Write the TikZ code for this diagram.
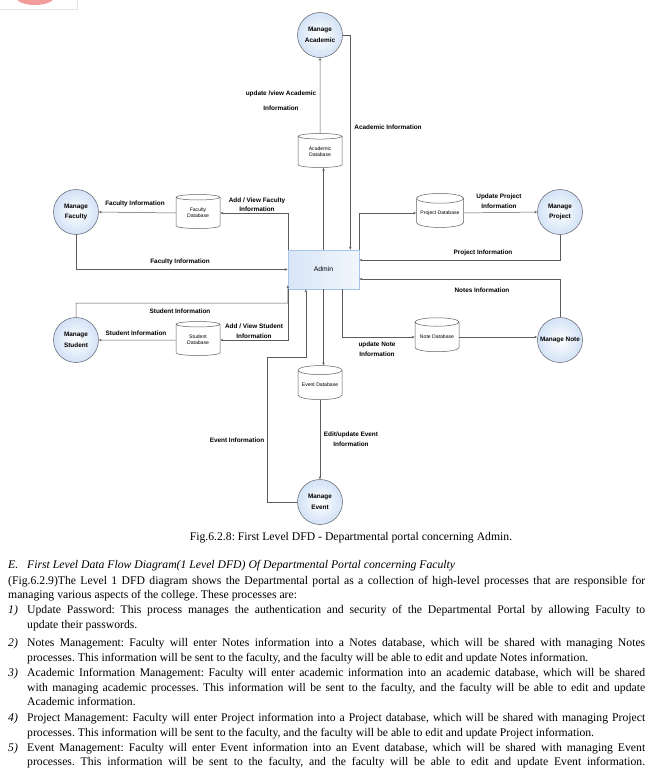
\documentclass[tikz,border=0pt]{standalone}
\usepackage{fontspec}
\setmainfont{Liberation Serif}
\setsansfont{Liberation Sans}
\usetikzlibrary{shapes.geometric,arrows.meta}
\definecolor{procfill}{HTML}{D3E2F6}
\definecolor{procline}{HTML}{5A5F66}
\definecolor{hubfill}{HTML}{D8E6F8}
\definecolor{hubline}{HTML}{A9C4EA}
\definecolor{flowline}{HTML}{5B5B5B}
\definecolor{logopink}{HTML}{F39C9C}
\frenchspacing

\begin{document}
\begin{tikzpicture}[x=1pt, y=-1pt,
  proc/.style = {draw=procline, line width=0.5pt, circle, minimum size=45pt, inner sep=0pt, inner color=white, outer color=procfill, font=\sffamily\bfseries\fontsize{6.4}{10.5}\selectfont, align=center},
  store/.style = {draw=procline, line width=0.5pt, cylinder, shape border rotate=90, aspect=0.25, minimum width=44pt, minimum height=34pt, fill=white, inner sep=0pt, font=\sffamily\fontsize{5.1}{6.2}\selectfont, align=center},
  hub/.style = {draw=hubline, line width=0.5pt, minimum width=71pt, minimum height=39pt, inner sep=0pt, left color=hubfill, right color=hubfill!35, font=\sffamily\fontsize{6.8}{8}\selectfont},
  flow/.style = {draw=flowline, line width=0.5pt, -{Stealth[length=3pt, width=2.4pt]}},
  lbl/.style = {inner sep=0pt, align=center, font=\sffamily\bfseries\fontsize{6.4}{9.5}\selectfont},
  para/.style = {anchor=base west, inner sep=0pt, font=\fontsize{11.7}{14}\selectfont}]
\useasboundingbox (0,0) rectangle (650,780);
\fill[white] (0,0) rectangle (650,780);
\begin{scope}
  \clip (0,0) rectangle (650,780);
  \fill[logopink] (35,-4) ellipse (20 and 9);
\end{scope}
\draw[gray!20, line width=0.5pt] (0,9) -- (77,9) -- (77,0);

\node[proc] (acad) at (320,35) {Manage\\Academic};
\node[proc] (fac) at (76,212) {Manage\\Faculty};
\node[proc] (proj) at (560,212) {Manage\\Project};
\node[proc] (stu) at (76,340) {Manage\\Student};
\node[proc] (note) at (560,340) {Manage Note};
\node[proc] (event) at (320,502) {Manage\\Event};
\node[hub] (admin) at (323.5,269.5) {Admin};
\node[store] (acaddb) at (320,152) {Academic\\Database};
\node[store] (facdb) at (198,213) {Faculty\\Database};
\node[store, minimum width=47pt] (projdb) at (440,213) {Project Database};
\node[store] (studb) at (198,340) {Student\\Database};
\node[store] (notedb) at (437,337) {Note Database};
\node[store] (evdb) at (320,385) {Event Database};
\coordinate (stubend) at (288,303);
\coordinate (evbend) at (267,357);

\draw[flow] (admin.north) -- (admin.north |- acaddb.south);
\draw[flow] (acaddb.north) -- (acad.south);
\draw[flow] (acad.east) -| ([xshift=-9pt]admin.north east);
\draw[flow] (admin.north west) |- (facdb.east);
\draw[flow] (facdb.west) -- (fac.east);
\draw[flow] (fac.south) |- (admin.west);
\draw[flow] (stu.north) |- (stubend) -- ([yshift=4pt]admin.south west);
\draw[flow] (admin.south west) |- (studb.east);
\draw[flow] (studb.west) -- (stu.east);
\draw[flow] (event.west) -| (evbend) -| ([xshift=18pt]admin.south west);
\draw[flow] (admin.south) -- (admin.south |- evdb.north);
\draw[flow] (evdb.south) -- (event.north);
\draw[flow] ([xshift=-17pt]admin.south east) |- (notedb.west);
\draw[flow] (notedb.east) -- (notedb.east -| note.west);
\draw[flow] (note.north) |- ([yshift=-9.5pt]admin.east);
\draw[flow] (admin.north east) |- (projdb.west);
\draw[flow] (projdb.east) -- (proj.west);
\draw[flow] (proj.south) |- ([yshift=9.5pt]admin.east);

\node[lbl] (lacadup) at (281,100.5) {update /view Academic\\[5.5pt]Information};
\node[lbl] (lacad) at (388,127) {Academic Information};
\node[lbl] (lfacadd) at (257,204.5) {Add / View Faculty\\Information};
\node[lbl] (lfacout) at (135,204) {Faculty Information};
\node[lbl] (lfacin) at (180,262) {Faculty Information};
\node[lbl] (lstuin) at (180,311) {Student Information};
\node[lbl] (lstuout) at (136,333) {Student Information};
\node[lbl] (lstuadd) at (254,331) {Add / View Student\\Information};
\node[lbl] (lprojup) at (499,201) {Update Project\\Information};
\node[lbl] (lprojin) at (483,253) {Project Information};
\node[lbl] (lnotein) at (482,290) {Notes Information};
\node[lbl] (lnoteup) at (377,349) {update Note\\Information};
\node[lbl] (levin) at (237,440) {Event Information};
\node[lbl] (levup) at (351,439) {Edit/update Event\\Information};

\node[para, anchor=base] (caption) at (351,540) {Fig.6.2.8: First Level DFD - Departmental portal concerning Admin.};
\node[para] (secnum) at (8,568) {\itshape E.};
\node[para] (sectitle) at (27,568) {\itshape First Level Data Flow Diagram(1 Level DFD) Of Departmental Portal concerning Faculty};
\node[para] (intro1) at (8,584) {\makebox[637pt][s]{(Fig.6.2.9)The Level 1 DFD diagram shows the Departmental portal as a collection of high-level processes that are responsible for}};
\node[para] (intro2) at (8,598) {managing various aspects of the college. These processes are:};
\node[para] (num1) at (8,613) {\itshape 1)};
\node[para] (item1a) at (27,613) {\makebox[618pt][s]{Update Password: This process manages the authentication and security of the Departmental Portal by allowing Faculty to}};
\node[para] (item1b) at (27,628) {update their passwords.};
\node[para] (num2) at (8,646) {\itshape 2)};
\node[para] (item2a) at (27,646) {\makebox[618pt][s]{Notes Management: Faculty will enter Notes information into a Notes database, which will be shared with managing Notes}};
\node[para] (item2b) at (27,661) {processes. This information will be sent to the faculty, and the faculty will be able to edit and update Notes information.};
\node[para] (num3) at (8,676) {\itshape 3)};
\node[para] (item3a) at (27,676) {\makebox[618pt][s]{Academic Information Management: Faculty will enter academic information into an academic database, which will be shared}};
\node[para] (item3b) at (27,691) {\makebox[618pt][s]{with managing academic processes. This information will be sent to the faculty, and the faculty will be able to edit and update}};
\node[para] (item3c) at (27,705) {Academic information.};
\node[para] (num4) at (8,721) {\itshape 4)};
\node[para] (item4a) at (27,721) {\makebox[618pt][s]{Project Management: Faculty will enter Project information into a Project database, which will be shared with managing Project}};
\node[para] (item4b) at (27,736) {processes. This information will be sent to the faculty, and the faculty will be able to edit and update Project information.};
\node[para] (num5) at (8,751) {\itshape 5)};
\node[para] (item5a) at (27,751) {\makebox[618pt][s]{Event Management: Faculty will enter Event information into an Event database, which will be shared with managing Event}};
\node[para] (item5b) at (27,765) {\makebox[618pt][s]{processes. This information will be sent to the faculty, and the faculty will be able to edit and update Event information.}};
\end{tikzpicture}
\end{document}
